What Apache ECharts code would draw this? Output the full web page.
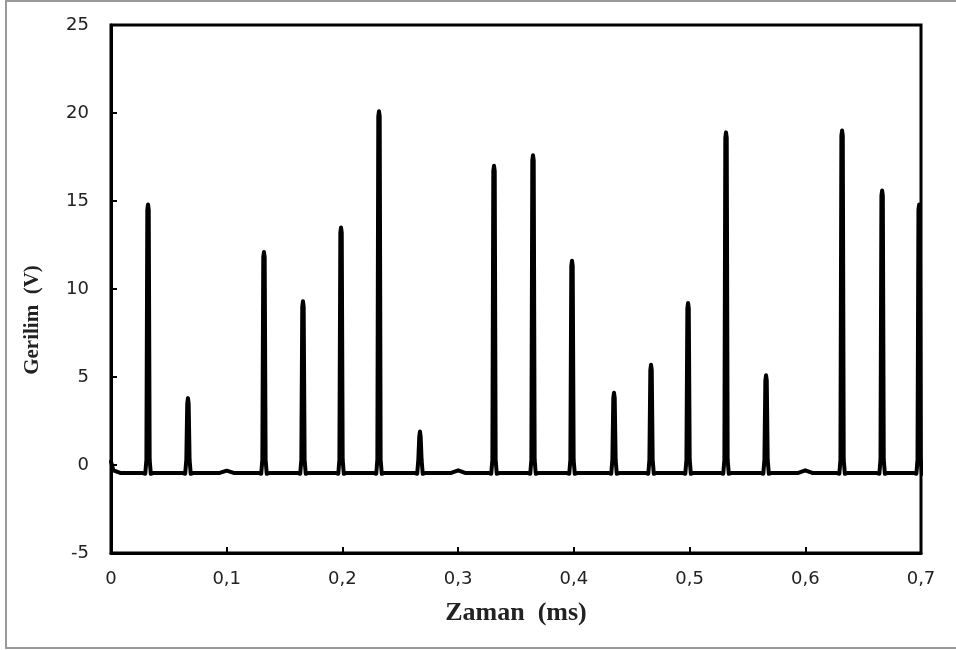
<!DOCTYPE html>
<html>
<head>
<meta charset="utf-8">
<script src="https://cdn.jsdelivr.net/npm/echarts@6/dist/echarts.min.js"></script>
<style>
html,body{margin:0;padding:0;background:#fff;}
#chart{width:956px;height:650px;}
</style>
</head>
<body>
<div id="chart"></div>
<script>
// Time axis (ms) and voltage (V)
const timeMs = [
  0, 0.002, 0.008,
  0.0270, 0.0296, 0.0306, 0.0314, 0.0320, 0.0326, 0.0334, 0.0344, 0.0370,
  0.0615, 0.0641, 0.0651, 0.0659, 0.0665, 0.0671, 0.0679, 0.0689, 0.0715,
  0.094, 0.100, 0.106,
  0.1272, 0.1298, 0.1308, 0.1316, 0.1322, 0.1328, 0.1336, 0.1346, 0.1372,
  0.1609, 0.1635, 0.1645, 0.1653, 0.1659, 0.1665, 0.1673, 0.1683, 0.1709,
  0.1938, 0.1964, 0.1974, 0.1982, 0.1988, 0.1994, 0.2002, 0.2012, 0.2038,
  0.2266, 0.2292, 0.2302, 0.2310, 0.2316, 0.2322, 0.2330, 0.2340, 0.2366,
  0.2620, 0.2646, 0.2656, 0.2664, 0.2670, 0.2676, 0.2684, 0.2694, 0.2720,
  0.294, 0.300, 0.306,
  0.3260, 0.3286, 0.3296, 0.3304, 0.3310, 0.3316, 0.3324, 0.3334, 0.3360,
  0.3597, 0.3623, 0.3633, 0.3641, 0.3647, 0.3653, 0.3661, 0.3671, 0.3697,
  0.3934, 0.3960, 0.3970, 0.3978, 0.3984, 0.3990, 0.3998, 0.4008, 0.4034,
  0.4297, 0.4323, 0.4333, 0.4341, 0.4347, 0.4353, 0.4361, 0.4371, 0.4397,
  0.4617, 0.4643, 0.4653, 0.4661, 0.4667, 0.4673, 0.4681, 0.4691, 0.4717,
  0.4937, 0.4963, 0.4973, 0.4981, 0.4987, 0.4993, 0.5001, 0.5011, 0.5037,
  0.5265, 0.5291, 0.5301, 0.5309, 0.5315, 0.5321, 0.5329, 0.5339, 0.5365,
  0.5611, 0.5637, 0.5647, 0.5655, 0.5661, 0.5667, 0.5675, 0.5685, 0.5711,
  0.594, 0.600, 0.606,
  0.6268, 0.6294, 0.6304, 0.6312, 0.6318, 0.6324, 0.6332, 0.6342, 0.6368,
  0.6614, 0.6640, 0.6650, 0.6658, 0.6664, 0.6670, 0.6678, 0.6688, 0.6714,
  0.6934, 0.6960, 0.6970, 0.6978, 0.6984, 0.6990, 0.6998, 0.7008
];
const voltV = [
  0.2, -0.3, -0.45,
  -0.45, -0.5, 0.3, 14.5, 14.8, 14.5, 0.3, -0.5, -0.45,
  -0.45, -0.5, 0.3, 3.5, 3.8, 3.5, 0.3, -0.5, -0.45,
  -0.45, -0.32, -0.45,
  -0.45, -0.5, 0.3, 11.8, 12.1, 11.8, 0.3, -0.5, -0.45,
  -0.45, -0.5, 0.3, 9.0, 9.3, 9.0, 0.3, -0.5, -0.45,
  -0.45, -0.5, 0.3, 13.2, 13.5, 13.2, 0.3, -0.5, -0.45,
  -0.45, -0.5, 0.3, 19.8, 20.1, 19.8, 0.3, -0.5, -0.45,
  -0.45, -0.5, 0.3, 1.6, 1.9, 1.6, 0.3, -0.5, -0.45,
  -0.45, -0.3, -0.45,
  -0.45, -0.5, 0.3, 16.7, 17.0, 16.7, 0.3, -0.5, -0.45,
  -0.45, -0.5, 0.3, 17.3, 17.6, 17.3, 0.3, -0.5, -0.45,
  -0.45, -0.5, 0.3, 11.3, 11.6, 11.3, 0.3, -0.5, -0.45,
  -0.45, -0.5, 0.3, 3.8, 4.1, 3.8, 0.3, -0.5, -0.45,
  -0.45, -0.5, 0.3, 5.4, 5.7, 5.4, 0.3, -0.5, -0.45,
  -0.45, -0.5, 0.3, 8.9, 9.2, 8.9, 0.3, -0.5, -0.45,
  -0.45, -0.5, 0.3, 18.6, 18.9, 18.6, 0.3, -0.5, -0.45,
  -0.45, -0.5, 0.3, 4.8, 5.1, 4.8, 0.3, -0.5, -0.45,
  -0.45, -0.3, -0.45,
  -0.45, -0.5, 0.3, 18.7, 19.0, 18.7, 0.3, -0.5, -0.45,
  -0.45, -0.5, 0.3, 15.3, 15.6, 15.3, 0.3, -0.5, -0.45,
  -0.45, -0.5, 0.3, 14.5, 14.8, 14.5, 0.3, -0.5
];
const xTicks = [0, 0.1, 0.2, 0.3, 0.4, 0.5, 0.6, 0.7];
const xTickLabels = ['0', '0,1', '0,2', '0,3', '0,4', '0,5', '0,6', '0,7'];
const yTicks = [-5, 0, 5, 10, 15, 20, 25];
const xTitle = 'Zaman  (ms)';
const yTitle = 'Gerilim  (V)';

const data = timeMs.map((t, i) => [t, voltV[i]]);

const chart = echarts.init(document.getElementById('chart'), null, {renderer: 'canvas'});
const labelFont = {color: '#222', fontFamily: 'DejaVu Sans', fontSize: 18};
const nameFontX = {color: '#222', fontFamily: 'Liberation Serif', fontWeight: 'bold', fontSize: 26};
const nameFontY = {color: '#222', fontFamily: 'Liberation Serif', fontWeight: 'bold', fontSize: 21};

chart.setOption({
  animation: false,
  backgroundColor: '#fff',
  grid: {left: 111, right: 35, top: 25, bottom: 97, show: true, borderColor: '#000', borderWidth: 3, backgroundColor: 'transparent'},
  xAxis: {
    type: 'value', min: xTicks[0], max: xTicks[xTicks.length - 1], interval: 0.1,
    axisLine: {show: true, onZero: false, lineStyle: {color: '#000', width: 3}},
    axisTick: {show: true, inside: true, length: 6, lineStyle: {color: '#000', width: 2}},
    splitLine: {show: false},
    axisLabel: Object.assign({margin: 17, formatter: v => {
      const i = xTicks.findIndex(x => Math.abs(x - v) < 1e-9);
      return i >= 0 ? xTickLabels[i] : '';
    }}, labelFont),
    name: xTitle, nameLocation: 'middle', nameGap: 47, nameTextStyle: nameFontX
  },
  yAxis: {
    type: 'value', min: yTicks[0], max: yTicks[yTicks.length - 1], interval: 5,
    axisLine: {show: true, lineStyle: {color: '#000', width: 3}},
    axisTick: {show: true, inside: true, length: 6, lineStyle: {color: '#000', width: 2}},
    splitLine: {show: false},
    axisLabel: Object.assign({margin: 22}, labelFont),
    name: yTitle, nameLocation: 'middle', nameGap: 68, nameRotate: 90,
    nameTextStyle: Object.assign({padding: [0, 62, 0, 0]}, nameFontY)
  },
  series: [{
    type: 'line', data: data, showSymbol: false, symbol: 'none', clip: true,
    lineStyle: {color: '#000', width: 4, join: 'round', cap: 'round'}
  }],
  graphic: [
    {type: 'rect', silent: true, shape: {x: 6, y: 1, width: 970, height: 647}, style: {fill: 'none', stroke: '#9a9a9a', lineWidth: 2}}
  ]
});
</script>
</body>
</html>
